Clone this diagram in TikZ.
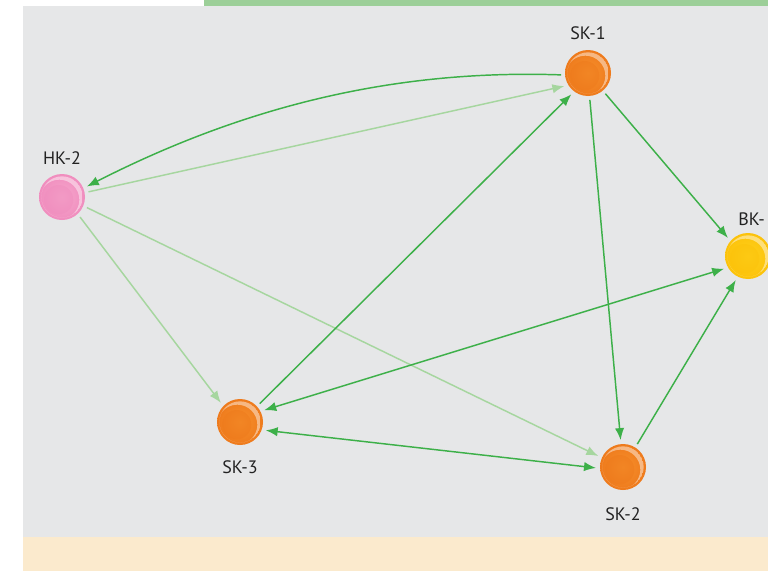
\documentclass[tikz,border=0pt]{standalone}
\usepackage{fontspec}
\setmainfont{PT Sans}
\usetikzlibrary{arrows.meta}
\definecolor{panel}{HTML}{E6E7E8}
\definecolor{cream}{HTML}{FBEACD}
\definecolor{topbar}{HTML}{9CCF98}
\definecolor{linkdark}{HTML}{3DB049}
\definecolor{linklight}{HTML}{A6D69F}
\definecolor{labeltext}{HTML}{222222}
\definecolor{orangeA}{HTML}{F7922E}
\definecolor{orangeB}{HTML}{EE7A1C}
\definecolor{pinkA}{HTML}{F6A9CD}
\definecolor{pinkB}{HTML}{F08DBE}
\definecolor{yellowA}{HTML}{FFD21E}
\definecolor{yellowB}{HTML}{FCC20A}
\tikzset{
  ball/.style 2 args={circle, minimum size=34.5pt, inner sep=0pt, outer sep=3pt,
    inner color=#1, outer color=#2,
    path picture={
      \fill[#2, opacity=0.5] ([shift={(-2.5pt,-2pt)}]path picture bounding box.center) circle (11pt);
      \begin{scope}
        \clip (path picture bounding box.center) circle (15.5pt);
        \fill[white, opacity=0.45, even odd rule]
          (path picture bounding box.center) circle (15.5pt)
          ([shift={(-2pt,-2pt)}]path picture bounding box.center) circle (15pt);
      \end{scope}
    }},
  tag/.style={font=\fontsize{13.5}{15}\selectfont, text=labeltext, inner sep=0pt},
  strong/.style={draw=linkdark, line width=1.1pt, -{Latex[length=9pt,width=7pt]}},
  faint/.style={draw=linklight, line width=1.1pt, -{Latex[length=9pt,width=7pt]}},
  both/.style={draw=linkdark, line width=1.1pt, {Latex[length=9pt,width=7pt]}-{Latex[length=9pt,width=7pt]}}
}
\begin{document}
\begin{tikzpicture}[x=0.75pt, y=-0.75pt]
  \useasboundingbox (0,0) rectangle (768,571);
  \clip (0,0) rectangle (768,571);
  % panels
  \fill[topbar] (204,0) rectangle (768,6);
  \fill[panel] (23,6) rectangle (768,537);
  \fill[cream] (23,537) rectangle (768,571);

  % balls
  \node[ball={orangeA}{orangeB}] (sk1) at (588,73) {};
  \node[ball={pinkA}{pinkB}] (hk2) at (62,197) {};
  \node[ball={yellowA}{yellowB}] (bk1) at (748,256) {};
  \node[ball={orangeA}{orangeB}] (sk3) at (240,422) {};
  \node[ball={orangeA}{orangeB}] (sk2) at (623,467) {};

  % labels
  \node[tag] (sk1-t) at (588,33) {SK-1};
  \node[tag] (hk2-t) at (62,158) {HK-2};
  \node[tag, anchor=west] (bk1-t) at (738,219) {BK-};
  \node[tag] (sk3-t) at (240,467) {SK-3};
  \node[tag] (sk2-t) at (623,514) {SK-2};

  % links
  \draw[faint] (hk2.11) -- (sk1.209);
  \draw[faint] (hk2.-48) -- (sk3.135);
  \draw[faint] (hk2.-23) -- (sk2.156);
  \draw[strong] (sk1.184) to[out=178, in=27, looseness=0.9] (hk2.23);
  \draw[strong] (sk3.43) -- (sk1.232);
  \draw[strong] (sk1.-50) -- (bk1.138);
  \draw[strong] (sk1.-86) -- (sk2.95);
  \draw[strong] (sk2.58) -- (bk1.243);
  \draw[both] (sk3.26) -- (bk1.208);
  \draw[both] (sk3.-18) -- (sk2.182);
\end{tikzpicture}
\end{document}
